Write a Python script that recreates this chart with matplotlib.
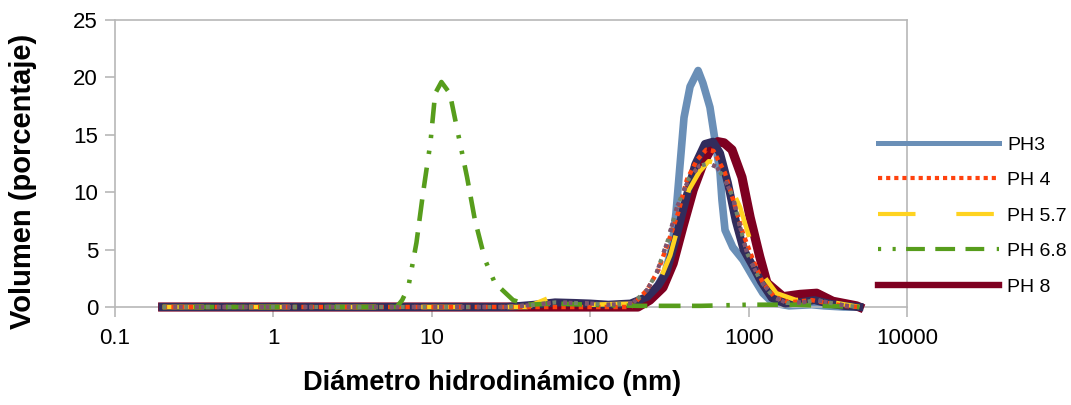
import matplotlib
matplotlib.use("Agg")
import matplotlib.pyplot as plt
from matplotlib.lines import Line2D
from matplotlib.ticker import FixedLocator, FixedFormatter, NullLocator

plt.rcParams['font.family'] = ['Liberation Sans', 'DejaVu Sans']

# ---------------- data ----------------
x_ticks = [0.1, 1, 10, 100, 1000, 10000]
x_tick_labels = ["0.1", "1", "10", "100", "1000", "10000"]
y_ticks = [0, 5, 10, 15, 20, 25]

ph3_x = [0.2, 150, 206, 250, 297, 328, 348, 391, 427, 480, 515, 570, 614, 660, 679, 710, 795,
         922, 1067, 1232, 1426, 1800, 2500, 3000, 4000, 5000]
ph3_y = [0, 0, 0.4, 1.2, 3.0, 5.2, 8.2, 16.5, 19.2, 20.6, 19.5, 17.4, 14.5, 11.7, 9.3, 6.7, 5.2,
         4.1, 2.6, 1.2, 0.35, 0.1, 0.2, 0.1, 0, 0]

ph4_x = [0.2, 180, 229, 269, 310, 359, 408, 472, 540, 600, 708, 800, 922, 1067, 1230, 1450,
         1800, 2500, 3000, 4000, 5000]
ph4_y = [0, 0, 1.5, 3.2, 5.6, 8.2, 11.1, 12.8, 13.7, 13.6, 11.7, 9.3, 6.4, 4.1, 2.1, 0.9,
         0.4, 0.6, 0.4, 0.1, 0]

ph57_x = [0.2, 40, 55, 70, 100, 200, 260, 320, 369, 420, 490, 560, 640, 740, 883, 1023, 1200,
          1500, 2000, 2500, 2850, 3400, 5000]
ph57_y = [0, 0, 0.8, 0.4, 0.2, 0.3, 1.5, 4.5, 7.6, 10.2, 11.8, 12.7, 12.5, 11.0, 8.7, 5.8, 3.0,
          1.2, 0.6, 0.8, 1.4, 0.4, 0]

ph68_x = [0.2, 6.0, 6.5, 7.1, 8.0, 8.8, 9.8, 10.5, 11.5, 13.0, 14.6, 16.7, 18.7, 21.7, 25,
          32.6, 40, 60, 100, 200, 300, 500, 1000, 2000, 3000, 5000]
ph68_y = [0, 0, 0.6, 1.7, 5.6, 9.9, 14.3, 18.6, 19.6, 18.6, 15.2, 11.3, 7.6, 4.1, 2.1,
          0.6, 0.2, 0.3, 0.2, 0.1, 0.1, 0.1, 0.2, 0.2, 0.1, 0]

ph8_x = [0.2, 200, 238, 288, 334, 385, 447, 516, 580, 640, 700, 785, 908, 1023, 1175, 1306,
         1650, 2113, 2690, 3400, 4800, 5000]
ph8_y = [0, 0, 0.6, 1.7, 3.8, 7.0, 10.2, 12.5, 13.8, 14.4, 14.3, 13.7, 11.3, 7.8, 4.4, 2.1,
         0.9, 1.1, 1.2, 0.5, 0.1, 0]

s6_x = [0.2, 30, 45, 60, 80, 100, 130, 180, 230, 270, 302, 345, 400, 460, 530, 596, 660, 740,
        830, 930, 1060, 1200, 1400, 1700, 2100, 2600, 3200, 4000, 5000]
s6_y = [0, 0, 0.2, 0.4, 0.35, 0.3, 0.2, 0.3, 0.9, 1.9, 3.0, 5.8, 9.3, 12.4, 14.2, 14.4, 13.4,
        10.8, 7.5, 5.0, 3.6, 2.2, 0.8, 0.3, 0.4, 0.6, 0.3, 0.1, 0]

s7_x = [0.2, 30, 45, 60, 80, 100, 130, 186, 229, 263, 309, 353, 420, 490, 560, 630, 708, 795,
        883, 977, 1175, 1426, 1740, 2200, 2690, 3300, 4200, 5000]
s7_y = [0, 0, 0.2, 0.4, 0.35, 0.3, 0.2, 0.35, 1.5, 3.0, 5.8, 8.7, 11.2, 12.3, 12.5, 12.2,
        11.1, 9.6, 7.0, 4.7, 2.4, 0.9, 0.35, 0.4, 0.6, 0.35, 0.1, 0]

labels = ["PH3", "PH 4", "PH 5.7", "PH 6.8", "PH 8"]

# ---------------- styles ----------------
c_blue = "#6a8fb7"
c_orange = "#ff420e"
c_yellow = "#ffd320"
c_green = "#579d1c"
c_maroon = "#7e0021"
c_navy = "#322c5c"
c_mauve = "#80526f"
c_grgray = "#72846a"
c_axis = "#b8b8b8"

green_dash = (0, (0.75, 2.75, 0.75, 2.5, 4.5, 2.5, 4.75, 2.5, 4.5, 3.0))
yellow_dash = (0, (9.0, 9.8))
orange_dot = (0, (1.0, 0.95))

fig = plt.figure(figsize=(10.71, 4.05), dpi=100)
ax = fig.add_axes([115/1071, 1-307/405, (907-115)/1071, (307-20)/405])

ax.plot(ph3_x, ph3_y, color=c_blue, lw=5.5, solid_joinstyle='round', clip_on=False, zorder=2)
ax.plot(ph8_x, ph8_y, color=c_maroon, lw=6.6, solid_joinstyle='round', clip_on=False, zorder=3)
ax.plot(s6_x, s6_y, color=c_navy, lw=5.8, solid_joinstyle='round', clip_on=False, zorder=4)
ax.plot(ph57_x, ph57_y, color=c_yellow, lw=3.3, linestyle=yellow_dash, clip_on=False, zorder=5)
ax.plot(ph4_x, ph4_y, color=c_orange, lw=3.2, linestyle=orange_dot, clip_on=False, zorder=6)
ax.plot(ph68_x, ph68_y, color=c_green, lw=3.3, linestyle=green_dash, clip_on=False, zorder=7)
ax.plot(s7_x, s7_y, color=c_grgray, lw=3.0, linestyle=(0, (0.9, 1.7)), clip_on=False, zorder=8)
ax.plot(s7_x, s7_y, color=c_mauve, lw=3.0, linestyle=(1.3, (0.9, 3.0, 0.9, 0.4)), clip_on=False,
        zorder=8)

ax.set_xscale('log')
ax.set_xlim(0.1, 10000)
ax.set_ylim(0, 25)
ax.xaxis.set_major_locator(FixedLocator(x_ticks))
ax.xaxis.set_major_formatter(FixedFormatter(x_tick_labels))
ax.xaxis.set_minor_locator(NullLocator())
ax.yaxis.set_major_locator(FixedLocator(y_ticks))

for sp in ax.spines.values():
    sp.set_color(c_axis)
    sp.set_linewidth(1.2)
ax.tick_params(axis='both', which='major', length=7.2, width=1.2, color=c_axis,
               labelsize=16, labelcolor='#000000')
ax.tick_params(axis='x', pad=8)
ax.tick_params(axis='y', pad=5)

fig.text(23/1071, 1-181/405, "Volumen (porcentaje)", rotation=90, ha='center', va='center',
         fontsize=21, fontweight='bold')
fig.text(492/1071, 1-383/405, "Diámetro hidrodinámico (nm)", ha='center', va='center',
         fontsize=19.5, fontweight='bold')

handles = [
    Line2D([], [], color=c_blue, lw=3.6),
    Line2D([], [], color=c_orange, lw=3.0, linestyle=orange_dot),
    Line2D([], [], color=c_yellow, lw=3.0, linestyle=yellow_dash),
    Line2D([], [], color=c_green, lw=3.0, linestyle=green_dash),
    Line2D([], [], color=c_maroon, lw=4.6),
]
leg = fig.legend(handles, labels, loc='upper left', bbox_to_anchor=(878/1071, 1-136/405),
                 frameon=False, fontsize=14, handlelength=6.2, handletextpad=0.45,
                 labelspacing=0.92, borderpad=0, borderaxespad=0)

fig.savefig("out.png", dpi=100)
